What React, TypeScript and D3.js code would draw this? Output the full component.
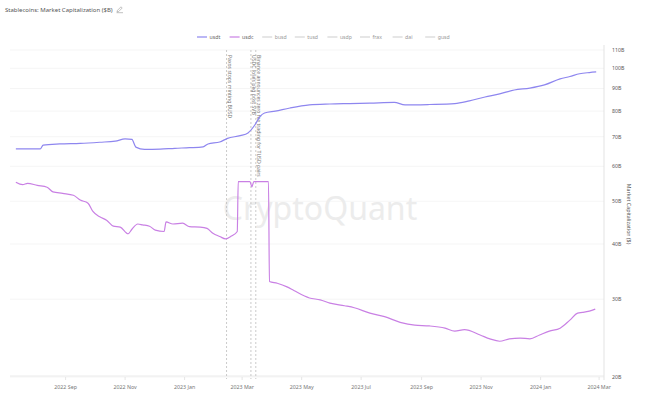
import React from "react";
import * as d3 from "d3";

const W = 647;
const H = 397;

const title = "Stablecoins: Market Capitalization ($B)";
const legendItems = ["usdt", "usdc", "busd", "tusd", "usdp", "frax", "dai", "gusd"];
const yTicks = [20, 30, 40, 50, 60, 70, 80, 90, 100, 110];

const usdtDates = [
  "2022-07-12", "2022-08-06", "2022-08-09", "2022-08-26", "2022-09-16", "2022-10-06", "2022-10-22",
  "2022-11-01", "2022-11-08", "2022-11-12", "2022-11-21", "2022-12-07", "2022-12-22", "2023-01-06",
  "2023-01-20", "2023-01-25", "2023-02-06", "2023-02-14", "2023-02-27", "2023-03-07", "2023-03-14",
  "2023-03-19", "2023-03-24", "2023-04-04", "2023-04-19", "2023-05-09", "2023-05-30", "2023-06-19",
  "2023-07-10", "2023-08-04", "2023-08-15", "2023-09-09", "2023-10-05", "2023-10-20", "2023-11-05",
  "2023-11-20", "2023-12-05", "2023-12-21", "2024-01-05", "2024-01-21", "2024-01-31", "2024-02-10",
  "2024-02-20", "2024-02-27",
];
const usdtValues = [
  65.7, 65.7, 67.0, 67.4, 67.6, 68.0, 68.4,
  69.2, 69.0, 66.3, 65.5, 65.6, 65.9, 66.1,
  66.4, 67.4, 68.1, 69.4, 70.4, 71.4, 74.4,
  77.6, 79.2, 80.0, 81.3, 82.6, 83.0, 83.2,
  83.4, 83.7, 82.6, 82.8, 83.2, 84.4, 86.1,
  87.5, 89.3, 90.2, 91.7, 94.6, 95.8, 97.2,
  97.8, 98.1,
];

const usdcDates = [
  "2022-07-12", "2022-07-19", "2022-07-24", "2022-08-03", "2022-08-13", "2022-08-19", "2022-08-29",
  "2022-09-09", "2022-09-16", "2022-09-24", "2022-09-29", "2022-10-06", "2022-10-13", "2022-10-20",
  "2022-10-27", "2022-11-04", "2022-11-08", "2022-11-14", "2022-11-19", "2022-11-26", "2022-12-02",
  "2022-12-11", "2022-12-13", "2022-12-20", "2022-12-30", "2023-01-06", "2023-01-17", "2023-01-24",
  "2023-01-30", "2023-02-06", "2023-02-12", "2023-02-18", "2023-02-24", "2023-02-25", "2023-03-09",
  "2023-03-11", "2023-03-13", "2023-03-28", "2023-03-29", "2023-04-06", "2023-04-16", "2023-04-23",
  "2023-05-09", "2023-05-20", "2023-05-30", "2023-06-14", "2023-06-24", "2023-07-10", "2023-07-25",
  "2023-08-10", "2023-08-25", "2023-09-09", "2023-09-25", "2023-10-05", "2023-10-15", "2023-10-31",
  "2023-11-10", "2023-11-20", "2023-11-30", "2023-12-11", "2023-12-21", "2023-12-31", "2024-01-10",
  "2024-01-21", "2024-01-31", "2024-02-08", "2024-02-13", "2024-02-20", "2024-02-26",
];
const usdcValues = [
  55.2, 54.5, 54.9, 54.3, 53.8, 52.5, 52.1,
  51.6, 50.3, 49.5, 47.4, 46.1, 45.3, 43.9,
  43.7, 42.2, 43.2, 44.4, 44.2, 43.9, 43.0,
  42.7, 44.9, 44.4, 44.6, 43.8, 43.7, 43.4,
  42.3, 41.6, 41.1, 41.7, 42.7, 55.4, 55.4,
  53.9, 55.4, 55.4, 32.9, 32.6, 32.0, 31.4,
  30.2, 29.9, 29.4, 29.0, 28.7, 27.9, 27.4,
  26.6, 26.2, 26.1, 25.8, 25.4, 25.6, 24.9,
  24.4, 24.1, 24.4, 24.5, 24.4, 24.9, 25.4,
  25.8, 26.9, 27.9, 28.0, 28.2, 28.5,
];

const eventDates = ["2023-02-13", "2023-03-10", "2023-03-15"];
const eventLabels = [
  "Paxos stops minting BUSD",
  "USDC loses peg post SVB",
  "Binance announces zero fee trading for TUSD pairs",
];

const FONT = "'Noto Sans', 'Open Sans', sans-serif";
const USDT_COLOR = "#8e86ef";
const USDC_COLOR = "#c980e4";

export default function App() {
  const parse = d3.timeParse("%Y-%m-%d");
  const left = 10;
  const right = 604;
  const top = 50;
  const bottom = 377;

  const x = d3
    .scaleTime()
    .domain([parse("2022-07-06") as Date, parse("2024-03-06") as Date])
    .range([left, right]);
  const y = d3.scaleLog().domain([20, 110]).range([bottom, top]);

  const usdt = usdtDates.map((d, i) => ({ date: parse(d) as Date, v: usdtValues[i] }));
  const usdc = usdcDates.map((d, i) => ({ date: parse(d) as Date, v: usdcValues[i] }));

  const line = d3
    .line<{ date: Date; v: number }>()
    .x((d) => x(d.date))
    .y((d) => y(d.v))
    .curve(d3.curveMonotoneX);

  const xTicks = x.ticks(d3.timeMonth.every(2) as d3.TimeInterval);
  const fmt = d3.timeFormat("%Y %b");

  const legendX0 = 197;
  const legendStep = 32.6;

  return (
    <svg
      width={W}
      height={H}
      style={{ position: "absolute", left: 0, top: 0, background: "#fff" }}
      fontFamily={FONT}
    >
      <rect x={0} y={0} width={W} height={H} fill="#fff" />
      {/* title */}
      <text x={5} y={12} fontSize={6} fill="#555">
        {title}
      </text>
      <g transform="translate(116.5,6.5)" stroke="#999" strokeWidth={0.6} fill="none">
        <path d="M0.5,5.5 L1,3.8 L4.5,0.3 L5.7,1.5 L2.2,5 Z" />
        <path d="M0,6.2 L6.5,6.2" />
      </g>

      {/* legend */}
      {legendItems.map((name, i) => {
        const lx = legendX0 + i * legendStep;
        const color = i === 0 ? USDT_COLOR : i === 1 ? USDC_COLOR : "#d6d6d6";
        return (
          <g key={name}>
            <line x1={lx} x2={lx + 10} y1={37} y2={37} stroke={color} strokeWidth={1.2} />
            <text x={lx + 12.5} y={39} fontSize={5.2} fill={i < 2 ? "#666" : "#999"}>
              {name}
            </text>
          </g>
        );
      })}

      {/* gridlines */}
      {yTicks.map((t) => (
        <line key={t} x1={left} x2={right} y1={y(t)} y2={y(t)} stroke="#f2f2f2" strokeWidth={0.8} />
      ))}

      {/* watermark */}
      <text
        x={320}
        y={220}
        fontSize={32}
        textAnchor="middle"
        fill="#ececec"
        fontFamily={FONT}
      >
        CryptoQuant
      </text>

      {/* right axis */}
      <line x1={right} x2={right} y1={45} y2={bottom + 3} stroke="#dcdcdc" strokeWidth={0.8} />
      {yTicks.map((t) => (
        <text key={t} x={612} y={y(t) + 2} fontSize={5.2} fill="#555">
          {`${t}B`}
        </text>
      ))}
      <text
        transform={`translate(627,${bottom - 163}) rotate(90)`}
        fontSize={5.3}
        fill="#555"
        textAnchor="middle"
      >
        Market Capitalization ($)
      </text>

      {/* bottom axis */}
      <line x1={left} x2={right} y1={bottom - 1} y2={bottom - 1} stroke="#e6e6e6" strokeWidth={0.8} />
      {xTicks.map((t) => (
        <g key={t.getTime()}>
          <line x1={x(t)} x2={x(t)} y1={bottom} y2={bottom + 3} stroke="#e0e0e0" strokeWidth={0.8} />
          <text x={x(t)} y={389} fontSize={5.3} fill="#777" textAnchor="middle">
            {fmt(t)}
          </text>
        </g>
      ))}

      {/* event lines */}
      {eventDates.map((d, i) => {
        const ex = x(parse(d) as Date);
        return (
          <g key={d}>
            <line
              x1={ex}
              x2={ex}
              y1={top}
              y2={bottom + 2}
              stroke="#b5b5b5"
              strokeWidth={0.7}
              strokeDasharray="2,2"
            />
            <text
              transform={`translate(${ex + 1.5},${top + 5}) rotate(90)`}
              fontSize={5.1}
              fill="#777"
            >
              {eventLabels[i]}
            </text>
          </g>
        );
      })}

      {/* series */}
      <path d={line(usdt) || ""} fill="none" stroke={USDT_COLOR} strokeWidth={1.2} />
      <path d={line(usdc) || ""} fill="none" stroke={USDC_COLOR} strokeWidth={1.2} />
    </svg>
  );
}
